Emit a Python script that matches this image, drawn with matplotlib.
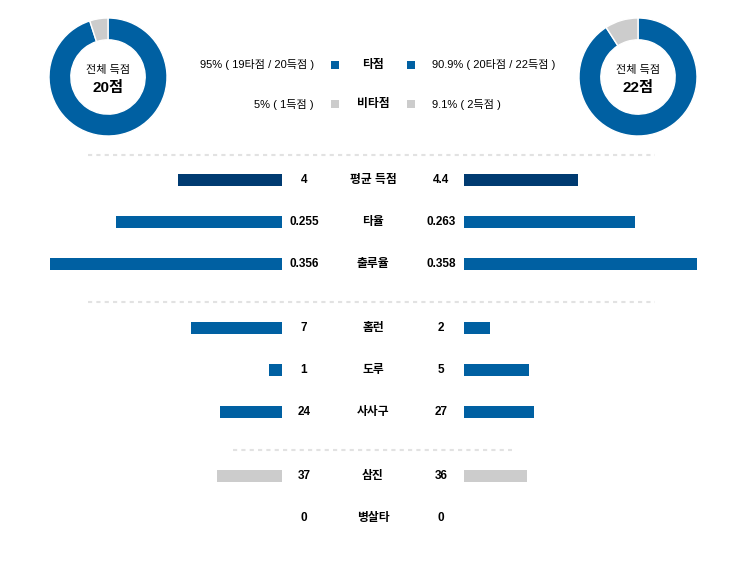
import matplotlib
matplotlib.use("Agg")
import matplotlib.pyplot as plt

plt.rcParams['font.family'] = ['Liberation Sans', 'Noto Sans CJK KR']

## data
stats = ['평균 득점', '타율', '출루율', '홈런', '도루', '사사구', '삼진', '병살타']
home_vals = [4, 0.255, 0.356, 7, 1, 24, 37, 0]
away_vals = [4.4, 0.263, 0.358, 2, 5, 27, 36, 0]
home_txt = ['4', '0.255', '0.356', '7', '1', '24', '37', '0']
away_txt = ['4.4', '0.263', '0.358', '2', '5', '27', '36', '0']

home_runs = [19, 1]   # 타점, 비타점
away_runs = [20, 2]
home_total = 20
away_total = 22
home_legend = ['95% ( 19타점 / 20득점 )', '5% ( 1득점 )']
away_legend = ['90.9% ( 20타점 / 22득점 )', '9.1% ( 2득점 )']
legend_names = ['타점', '비타점']

## layout (pixels)
row_y = [180, 222, 264, 328, 370, 412, 476, 518]
px_per_unit = [26, 652, 652, 13, 13, 2.6, 1.75, 13]
BLUE = '#0060a2'
NAVY = '#003b71'
GRAY = '#cccccc'
row_col = [NAVY, BLUE, BLUE, BLUE, BLUE, BLUE, GRAY, GRAY]

W, H = 744, 572
fig = plt.figure(figsize=(W / 100, H / 100), dpi=100)
ax = fig.add_axes([0, 0, 1, 1])
ax.set_xlim(0, W)
ax.set_ylim(H, 0)
ax.axis('off')

LEFT_END, RIGHT_START = 282, 464
for i in range(len(stats)):
    wl = home_vals[i] * px_per_unit[i]
    wr = away_vals[i] * px_per_unit[i]
    if wl > 0:
        ax.barh(row_y[i], wl, left=LEFT_END - wl, height=12, color=row_col[i])
    if wr > 0:
        ax.barh(row_y[i], wr, left=RIGHT_START, height=12, color=row_col[i])
    ax.text(304, row_y[i], home_txt[i], ha='center', va='center', fontsize=8.5, fontweight='bold')
    ax.text(373, row_y[i], stats[i], ha='center', va='center', fontsize=8.5, fontweight='bold')
    ax.text(441, row_y[i], away_txt[i], ha='center', va='center', fontsize=8.5, fontweight='bold')

# dotted separators
for y, x0, x1 in [(155, 88, 655), (302, 88, 655), (450, 233, 512)]:
    ax.plot([x0, x1], [y, y], color='#e2e2e2', lw=1.5, ls=(0, (2, 2)))

# legend rows
for j, y in enumerate([65, 104]):
    c = [BLUE, GRAY][j]
    ax.text(314, y, home_legend[j], ha='right', va='center', fontsize=8)
    ax.text(432, y, away_legend[j], ha='left', va='center', fontsize=8)
    ax.text(373, y, legend_names[j], ha='center', va='center', fontsize=8.5, fontweight='bold')
    ax.scatter([334.5, 410.5], [y, y], marker='s', s=40, color=c, linewidths=0)

# donuts
R = 59
for cx, runs, total in [(108, home_runs, home_total), (638, away_runs, away_total)]:
    dax = fig.add_axes([(cx - R) / W, (H - 77 - R) / H, 2 * R / W, 2 * R / H])
    dax.pie(runs, colors=[BLUE, GRAY], startangle=90, counterclock=False,
            wedgeprops=dict(width=0.37, edgecolor='white', linewidth=1))
    dax.set_xlim(-1, 1)
    dax.set_ylim(-1, 1)
    ax.text(cx, 70, '전체 득점', ha='center', va='center', fontsize=8)
    ax.text(cx, 88, f'{total}점', ha='center', va='center', fontsize=11, fontweight='bold')

fig.savefig('out.png', dpi=100)
